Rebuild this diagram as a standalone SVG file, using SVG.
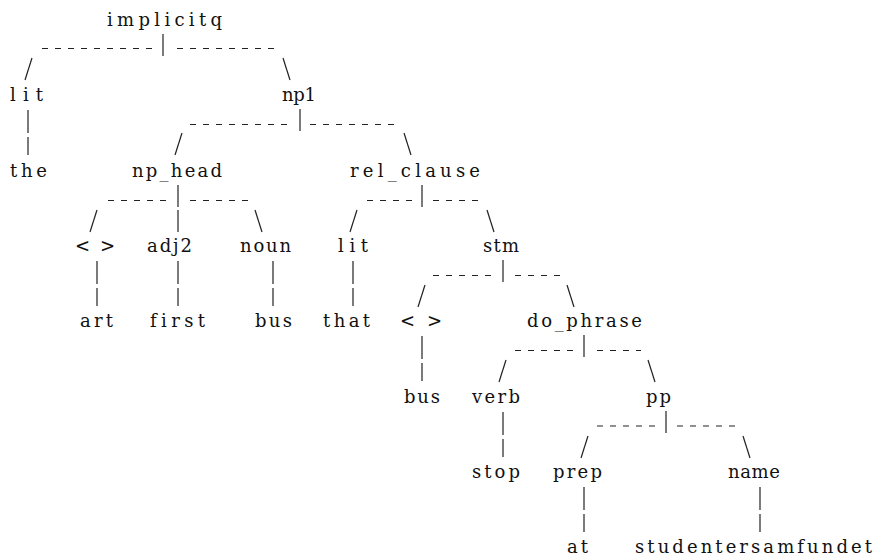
<svg xmlns="http://www.w3.org/2000/svg" width="875" height="558" viewBox="0 0 875 558">
<style>
text{font-family:"DejaVu Serif","Liberation Serif",serif;font-size:18px;fill:#111;font-variant-ligatures:none;font-feature-settings:"liga" 0}
.d{stroke:#222;stroke-width:1.1;stroke-dasharray:6 7;fill:none}
.c{stroke:#222;stroke-width:1.2;fill:none}
</style>
<rect width="875" height="558" fill="#fff"/>
<g id="connectors">
<line class="d" x1="42" y1="48.5" x2="153" y2="48.5"/>
<line class="d" x1="177" y1="48.5" x2="275" y2="48.5"/>
<line class="c" x1="163" y1="34" x2="163" y2="56"/>
<line class="c" x1="32" y1="58" x2="25" y2="80"/>
<line class="c" x1="283" y1="58" x2="290" y2="80"/>
<line class="c" x1="28" y1="110" x2="28" y2="133"/>
<line class="c" x1="28" y1="137" x2="28" y2="155"/>
<line class="d" x1="190" y1="124.5" x2="288" y2="124.5"/>
<line class="d" x1="310" y1="124.5" x2="395" y2="124.5"/>
<line class="c" x1="300" y1="109" x2="300" y2="131"/>
<line class="c" x1="182" y1="133" x2="175" y2="155"/>
<line class="c" x1="404" y1="133" x2="411" y2="155"/>
<line class="d" x1="108" y1="200.5" x2="169" y2="200.5"/>
<line class="d" x1="190" y1="200.5" x2="248" y2="200.5"/>
<line class="c" x1="178" y1="185" x2="178" y2="207"/>
<line class="c" x1="97" y1="210" x2="90" y2="232"/>
<line class="c" x1="178" y1="210" x2="178" y2="232"/>
<line class="c" x1="255" y1="210" x2="262" y2="232"/>
<line class="d" x1="367" y1="200.5" x2="413" y2="200.5"/>
<line class="d" x1="433" y1="200.5" x2="479" y2="200.5"/>
<line class="c" x1="422" y1="185" x2="422" y2="207"/>
<line class="c" x1="357" y1="210" x2="350" y2="232"/>
<line class="c" x1="487" y1="210" x2="494" y2="232"/>
<line class="c" x1="97" y1="261" x2="97" y2="284"/>
<line class="c" x1="97" y1="288" x2="97" y2="306"/>
<line class="c" x1="178" y1="261" x2="178" y2="284"/>
<line class="c" x1="178" y1="288" x2="178" y2="306"/>
<line class="c" x1="273" y1="261" x2="273" y2="284"/>
<line class="c" x1="273" y1="288" x2="273" y2="306"/>
<line class="c" x1="353" y1="261" x2="353" y2="284"/>
<line class="c" x1="353" y1="288" x2="353" y2="306"/>
<line class="d" x1="433" y1="275.5" x2="494" y2="275.5"/>
<line class="d" x1="515" y1="275.5" x2="561" y2="275.5"/>
<line class="c" x1="503" y1="260" x2="503" y2="282"/>
<line class="c" x1="425" y1="285" x2="418" y2="307"/>
<line class="c" x1="567" y1="285" x2="574" y2="307"/>
<line class="c" x1="422" y1="336" x2="422" y2="359"/>
<line class="c" x1="422" y1="363" x2="422" y2="381"/>
<line class="d" x1="515" y1="350.5" x2="574" y2="350.5"/>
<line class="d" x1="597" y1="350.5" x2="641" y2="350.5"/>
<line class="c" x1="584" y1="335" x2="584" y2="357"/>
<line class="c" x1="506" y1="360" x2="499" y2="382"/>
<line class="c" x1="648" y1="360" x2="655" y2="382"/>
<line class="c" x1="503" y1="412" x2="503" y2="435"/>
<line class="c" x1="503" y1="439" x2="503" y2="457"/>
<line class="d" x1="597" y1="426" x2="656" y2="426"/>
<line class="d" x1="677" y1="426" x2="736" y2="426"/>
<line class="c" x1="666" y1="411" x2="666" y2="433"/>
<line class="c" x1="588" y1="436" x2="581" y2="458"/>
<line class="c" x1="743" y1="436" x2="750" y2="458"/>
<line class="c" x1="584" y1="487" x2="584" y2="510"/>
<line class="c" x1="584" y1="514" x2="584" y2="532"/>
<line class="c" x1="760" y1="487" x2="760" y2="510"/>
<line class="c" x1="760" y1="514" x2="760" y2="532"/>
</g>
<g id="implicitq"><text x="107" y="26" textLength="115" lengthAdjust="spacing">implicitq</text></g>
<g id="lit1"><text x="10" y="101" textLength="33" lengthAdjust="spacing">lit</text></g>
<g id="np1"><text x="282" y="101" textLength="34" lengthAdjust="spacing">np1</text></g>
<g id="the"><text x="10" y="177" textLength="37" lengthAdjust="spacing">the</text></g>
<g id="np_head"><text x="132" y="177" textLength="90" lengthAdjust="spacing">np_head</text></g>
<g id="rel_clause"><text x="350" y="177" textLength="130" lengthAdjust="spacing">rel_clause</text></g>
<g id="empty1"><text x="75" y="252" textLength="40" lengthAdjust="spacing">&lt; &gt;</text></g>
<g id="adj2"><text x="147" y="252" textLength="45" lengthAdjust="spacing">adj2</text></g>
<g id="noun"><text x="240" y="252" textLength="51" lengthAdjust="spacing">noun</text></g>
<g id="lit2"><text x="338" y="252" textLength="30" lengthAdjust="spacing">lit</text></g>
<g id="stm"><text x="483" y="252" textLength="36" lengthAdjust="spacing">stm</text></g>
<g id="art"><text x="80" y="327" textLength="33" lengthAdjust="spacing">art</text></g>
<g id="first"><text x="150" y="327" textLength="55" lengthAdjust="spacing">first</text></g>
<g id="bus1"><text x="255" y="327" textLength="37" lengthAdjust="spacing">bus</text></g>
<g id="that"><text x="323" y="327" textLength="47" lengthAdjust="spacing">that</text></g>
<g id="empty2"><text x="400" y="327" textLength="42" lengthAdjust="spacing">&lt; &gt;</text></g>
<g id="do_phrase"><text x="527" y="327" textLength="115" lengthAdjust="spacing">do_phrase</text></g>
<g id="bus2"><text x="404" y="403" textLength="36" lengthAdjust="spacing">bus</text></g>
<g id="verb"><text x="472" y="403" textLength="48" lengthAdjust="spacing">verb</text></g>
<g id="pp"><text x="646" y="403" textLength="25" lengthAdjust="spacing">pp</text></g>
<g id="stop"><text x="472" y="478" textLength="48" lengthAdjust="spacing">stop</text></g>
<g id="prep"><text x="553" y="478" textLength="49" lengthAdjust="spacing">prep</text></g>
<g id="name"><text x="728" y="478" textLength="52" lengthAdjust="spacing">name</text></g>
<g id="at"><text x="567" y="553" textLength="21" lengthAdjust="spacing">at</text></g>
<g id="studentersamfundet"><text x="635" y="553" textLength="237" lengthAdjust="spacing">studentersamfundet</text></g>
</svg>
